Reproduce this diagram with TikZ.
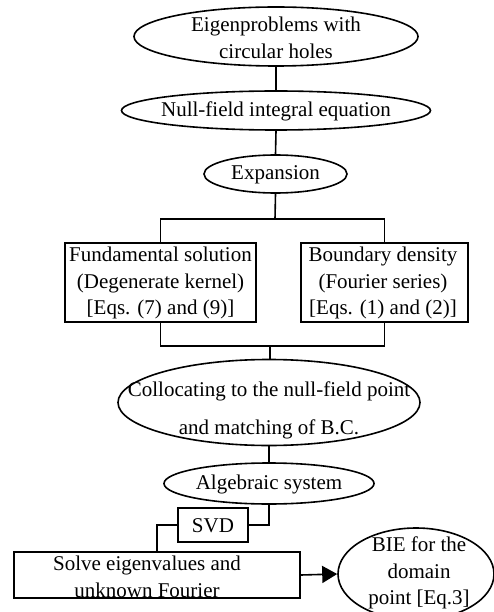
\documentclass[tikz,border=0pt]{standalone}
\usepackage{fontspec}
\setmainfont{Liberation Serif}
\usetikzlibrary{shapes.geometric,arrows.meta}
\begin{document}
\begin{tikzpicture}[x=1pt,y=-1pt,line width=1.6pt,
  ell/.style={draw,ellipse,inner sep=0pt},
  box/.style={draw,rectangle,inner sep=0pt},
  txt/.style={align=center,inner sep=0pt,font=\fontsize{21}{26.5}\selectfont}]
\useasboundingbox (0,0) rectangle (494,612);
\clip (0,0) rectangle (494,612);
% ellipses
\node[ell,minimum width=284pt,minimum height=59pt] (e1) at (276,36.5) {};
\node[txt] (t1) at (276,38) {Eigenproblems with\\circular holes};
\node[ell,minimum width=309pt,minimum height=39pt] (e2) at (276,110.5) {};
\node[txt] (t2) at (276,111) {Null-field integral equation};
\node[ell,minimum width=143pt,minimum height=38pt] (e3) at (275.5,174) {};
\node[txt] (t3) at (275.5,175) {Expansion};
% boxes
\node[box,minimum width=191pt,minimum height=79pt] (bL) at (160.5,282.5) {};
\node[txt] (tL) at (160.5,283) {Fundamental solution\\(Degenerate kernel)\\{}{[Eqs. (7) and (9)]}};
\node[box,minimum width=167pt,minimum height=79pt] (bR) at (384.5,282.5) {};
\node[txt] (tR) at (383,283) {Boundary density\\(Fourier series)\\{}{[Eqs. (1) and (2)]}};
% collocating
\node[ell,minimum width=302pt,minimum height=86pt] (e4) at (269,402.5) {};
\node[txt,font=\fontsize{21}{38}\selectfont] (t4) at (269,410) {Collocating to the null-field point\\and matching of B.C.};
\node[ell,minimum width=210pt,minimum height=41pt] (e5) at (269,483.5) {};
\node[txt] (t5) at (269,484.5) {Algebraic system};
\node[box,minimum width=70pt,minimum height=34pt] (svd) at (213,525) {};
\node[txt] (t6) at (213,526) {SVD};
\node[box,minimum width=286pt,minimum height=46pt] (solve) at (157,575) {};
\node[txt] (t7) at (147,577) {Solve eigenvalues and\\unknown Fourier};
\node[ell,minimum width=156pt,minimum height=92pt] (bie) at (416,574) {};
\node[txt] (t8) at (419,573) {BIE for the\\domain\\point {}{[Eq.3]}};
% junctions
\coordinate (j1) at (275,219);
\coordinate (j2) at (270,346);
% connectors
\draw (e1.south) -- (e2.north);
\draw (e2.south) -- (e3.north);
\draw (e3.south) -- (j1);
\draw (bL.north) |- (j1) -| (bR.north);
\draw (bL.south) |- (j2) -| (bR.south);
\draw (j2) -- (j2 |- e4.north);
\draw (e4.south) -- (e5.north);
\draw (e5.south) |- (svd.east);
\draw (svd.west) -| (solve.north);
\draw[-{Triangle[length=15pt,width=17pt]}] (solve.east) -- (bie.west);
\end{tikzpicture}
\end{document}
